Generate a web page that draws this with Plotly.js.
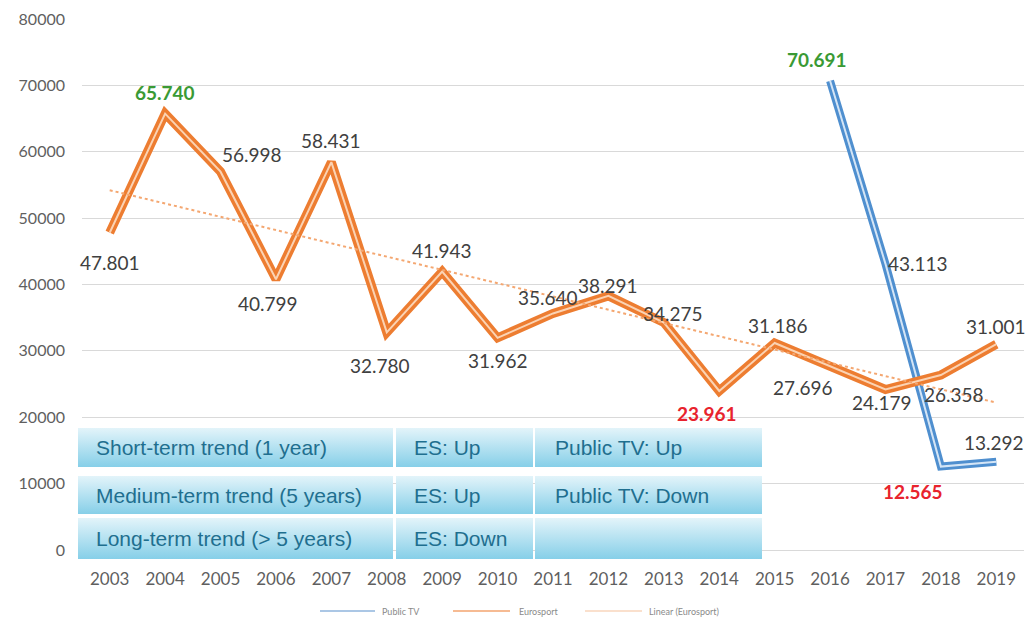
<!DOCTYPE html>
<html>
<head>
<meta charset="utf-8">
<script src="https://cdn.plot.ly/plotly-3.0.1.min.js"></script>
<style>html,body{margin:0;padding:0;background:#fff;}#chart{width:1026px;height:621px;}</style>
</head>
<body>
<div id="chart"></div>
<script>
// ---- data ----
const years = [2003, 2004, 2005, 2006, 2007, 2008, 2009, 2010, 2011, 2012, 2013, 2014, 2015, 2016, 2017, 2018, 2019];
const eurosport = [47801, 65740, 56998, 40799, 58431, 32780, 41943, 31962, 35640, 38291, 34275, 23961, 31186, 27696, 24179, 26358, 31001];
const publicYears = [2016, 2017, 2018, 2019];
const publicTV = [70691, 43113, 12565, 13292];
const trendYears = [2003, 2019];
const trendValues = [54200, 22200];
const seriesNames = ["Public TV", "Eurosport", "Linear (Eurosport)"];
const tableCol1 = ["Short-term trend (1 year)", "Medium-term trend (5 years)", "Long-term trend (> 5 years)"];
const tableCol2 = ["ES: Up", "ES: Up", "ES: Down"];
const tableCol3 = ["Public TV: Up", "Public TV: Down", ""];

// ---- label placement (pixel shifts) ----
const esShift = [[0,-30],[0,21],[31,17],[-8,-24],[0,22],[-7,-33],[0,21],[0,-23],[-5,16],[0,10],[9,9],[-12,-23],[3,18],[-27,-21],[-3,-13],[13,-19],[0,18]];
const ptShift = [[-13,21],[33,0],[-28,-25],[-2,19]];

const ORANGE = '#ed7d31', ORANGE_IN = '#fbd3b3';
const BLUE = '#4f8fcf', BLUE_IN = '#d4e5f6';
const GREEN = '#3a9a34', RED = '#e8232d', LABEL = '#404040';

function fmt(v){ return String(v).replace(/\B(?=(\d{3})+(?!\d))/g, '.'); }

const traces = [
  {x: publicYears, y: publicTV, mode:'lines', name: seriesNames[0], line:{color:BLUE, width:8}, showlegend:false, hoverinfo:'skip'},
  {x: publicYears, y: publicTV, mode:'lines', line:{color:BLUE_IN, width:2}, showlegend:false, hoverinfo:'skip'},
  {x: years, y: eurosport, mode:'lines', name: seriesNames[1], line:{color:ORANGE, width:9}, showlegend:false, hoverinfo:'skip'},
  {x: years, y: eurosport, mode:'lines', line:{color:ORANGE_IN, width:2}, showlegend:false, hoverinfo:'skip'},
  {x: trendYears, y: trendValues, mode:'lines', name: seriesNames[2], line:{color:'#f4a771', width:2, dash:'dot'}, showlegend:false, hoverinfo:'skip'}
];

function labelAnn(xs, ys, shifts){
  const mx = Math.max(...ys), mn = Math.min(...ys);
  return ys.map((v,i)=>{
    const hi = v===mx, lo = v===mn;
    return {
      x: xs[i], y: v, xref:'x', yref:'y', showarrow:false,
      text: (hi||lo) ? '<b>'+fmt(v)+'</b>' : fmt(v),
      xshift: shifts[i][0], yshift: shifts[i][1],
      font:{family:'Lato, sans-serif', size:19, color: hi?GREEN:(lo?RED:LABEL)}
    };
  });
}

// ---- geometry helpers ----
const PL = 82, PW = 942, PT = 19, PH = 531;
const px2x = p => (p-PL)/PW;
const py2y = p => (PT+PH-p)/PH;

// ---- table overlay ----
const tblLeft = 78, tblTop = 428, tblW = 684, tblH = 131;
const colX = [[0,315],[318,455],[457,684]];
const rowY = [[0,39],[48,86],[90,131]];
let rects = '';
rowY.forEach(r=>colX.forEach(c=>{
  rects += `<rect x='${c[0]}' y='${r[0]}' width='${c[1]-c[0]}' height='${r[1]-r[0]}' fill='url(#g)'/>`;
}));
const svg = `<svg xmlns='http://www.w3.org/2000/svg' width='${tblW}' height='${tblH}' viewBox='0 0 ${tblW} ${tblH}' preserveAspectRatio='none'><defs><linearGradient id='g' x1='0' y1='0' x2='0' y2='1'><stop offset='0' stop-color='#e3f4fa'/><stop offset='1' stop-color='#86cfe8'/></linearGradient></defs>${rects}</svg>`;
const tableImage = {
  source: 'data:image/svg+xml;charset=utf-8,' + encodeURIComponent(svg),
  xref:'paper', yref:'paper', x: px2x(tblLeft), y: py2y(tblTop),
  sizex: tblW/PW, sizey: tblH/PH, xanchor:'left', yanchor:'top',
  sizing:'stretch', layer:'above'
};
const textX = [94, 412, 553];
const tableAnns = [];
[tableCol1, tableCol2, tableCol3].forEach((col, ci)=>{
  col.forEach((t, ri)=>{
    if(!t) return;
    const cy = tblTop + (rowY[ri][0]+rowY[ri][1])/2;
    tableAnns.push({xref:'paper', yref:'paper', x: px2x(textX[ci]), y: py2y(cy), xanchor:'left', yanchor:'middle',
      showarrow:false, text:t, font:{family:'Liberation Sans, Arial, sans-serif', size:21, color:'#1f6f8f'}});
  });
});

// ---- legend (drawn manually to match the small Excel legend) ----
const legendColors = ['#8fb4dc', '#f3a46f', '#f9d6bd'];
const legendLineX = [[320,375],[453,510],[585,642]];
const legendTextX = [380, 517, 647];
const legendY = 611;
const legendShapes = legendLineX.map((lx,i)=>({type:'line', xref:'paper', yref:'paper',
  x0:px2x(lx[0]), x1:px2x(lx[1]), y0:py2y(legendY), y1:py2y(legendY), line:{color:legendColors[i], width:1.5}}));
const legendAnns = seriesNames.map((n,i)=>({xref:'paper', yref:'paper', x:px2x(legendTextX[i]), y:py2y(legendY),
  xanchor:'left', yanchor:'middle', showarrow:false, text:n, font:{family:'Lato, sans-serif', size:9, color:'#8a8a8a'}}));

const layout = {
  width:1026, height:621,
  margin:{l:PL, r:2, t:PT, b:71},
  paper_bgcolor:'#ffffff', plot_bgcolor:'#ffffff',
  showlegend:false,
  xaxis:{range:[2002.5, 2019.5], tickmode:'array', tickvals: years, ticktext: years.map(String),
    showgrid:false, zeroline:false, showline:false, ticks:'', ticklabelstandoff:17,
    tickfont:{family:'Lato, sans-serif', size:17, color:'#5f5f5f'}, fixedrange:true},
  yaxis:{range:[0, 80000], dtick:10000, tickformat:'d', showgrid:true, gridcolor:'#d9d9d9', gridwidth:1,
    zeroline:true, zerolinecolor:'#d9d9d9', zerolinewidth:1, showline:false, ticks:'', ticklabelstandoff:16,
    tickfont:{family:'Lato, sans-serif', size:16, color:'#5f5f5f'}, fixedrange:true},
  images:[tableImage],
  shapes: legendShapes,
  annotations: labelAnn(years, eurosport, esShift).concat(labelAnn(publicYears, publicTV, ptShift)).concat(tableAnns).concat(legendAnns)
};

Plotly.newPlot('chart', traces, layout, {displayModeBar:false, staticPlot:true});
</script>
</body>
</html>
